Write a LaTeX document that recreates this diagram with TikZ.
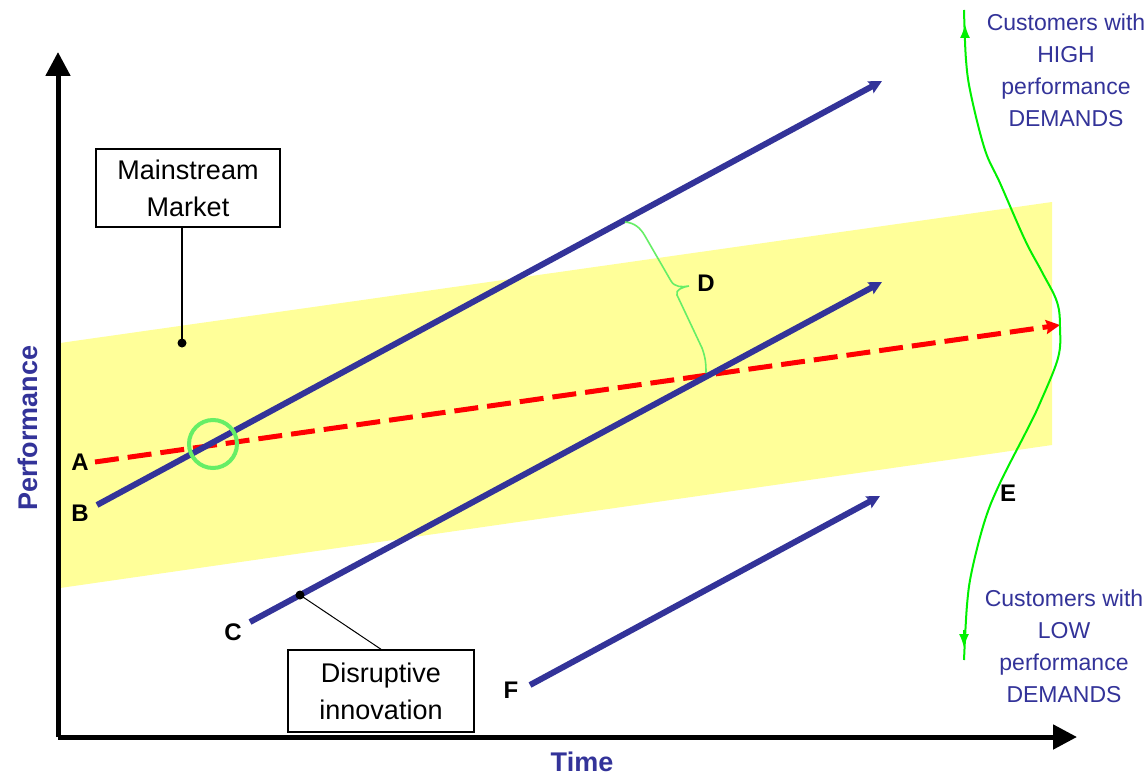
\documentclass[tikz,border=0pt]{standalone}
\usepackage{fontspec}
\setmainfont{Liberation Sans}
\usetikzlibrary{arrows.meta}
\definecolor{navy}{RGB}{51,51,153}
\definecolor{band}{RGB}{255,255,153}
\definecolor{lgreen}{RGB}{102,238,102}
\definecolor{bgreen}{RGB}{0,240,0}
\begin{document}
\begin{tikzpicture}[x=1pt,y=-1pt,
  axisline/.style={line width=5pt,-{Triangle[length=24pt,width=24pt]}},
  blueline/.style={navy,line width=6pt,-{Stealth[length=13pt,width=13pt,inset=2pt]}},
  redline/.style={red,line width=5pt,dash pattern=on 24pt off 9pt,-{Stealth[length=14pt,width=14pt,inset=2pt]}},
  lbl/.style={font=\fontsize{24}{24}\selectfont\bfseries,inner sep=0pt},
  boxnode/.style={draw,line width=1.5pt,fill=white,align=center,font=\fontsize{27}{37}\selectfont},
  cust/.style={navy,align=center,font=\fontsize{23}{32}\selectfont,inner sep=0pt},
  axtitle/.style={navy,font=\fontsize{27}{27}\selectfont\bfseries,inner sep=0pt}
]
\useasboundingbox[fill=white] (0,0) rectangle (1147,778);
% band
\fill[band] (60,343) -- (1052,202) -- (1052,445) -- (60,588) -- cycle;
% coordinates
\coordinate (O) at (58,737);
\coordinate (ytip) at (58,52);
\coordinate (xtip) at (1077,737);
\coordinate (a0) at (95,462);   \coordinate (a1) at (1060,325);
\coordinate (b0) at (97,505);   \coordinate (b1) at (882,81);
\coordinate (c0) at (250,622);  \coordinate (c1) at (882,282);
\coordinate (f0) at (530,685);  \coordinate (f1) at (880,496);
\coordinate (mdot) at (182,343);
\coordinate (ddot) at (300,595);
% boxes
\node[boxnode,minimum width=184pt,minimum height=78pt] (mm) at (188,188) {Mainstream\\Market};
\node[boxnode,minimum width=186pt,minimum height=82pt] (di) at (381,691) {Disruptive\\innovation};
\draw[line width=1.5pt] (mm.south -| mdot) -- (mdot);
\fill (mdot) circle (4.5pt);
% lines
\draw[redline] (a0) -- (a1);
\draw[blueline] (b0) -- (b1);
\draw[blueline] (c0) -- (c1);
\draw[blueline] (f0) -- (f1);
\draw[line width=1pt] (ddot) -- (di.north);
\fill (ddot) circle (4.5pt);
% circle
\draw[lgreen,line width=4pt] (213,444) circle (24pt);
% brace D
\coordinate (u) at (625,222);
\coordinate (l) at (706,373);
\draw[lgreen,line width=1.6pt] (u) to[out=-5,in=120] (645,236) -- (671,281) to[out=-60,in=190] (689,286)
  (689,286) to[out=190,in=110] (677,295) -- (702,348) to[out=-70,in=90] (l);
% axes
\draw[axisline] (O) -- (ytip);
\draw[axisline] (O) -- (xtip);
% labels
\node[lbl] (A) at (80,462) {A};
\node[lbl] (B) at (80,513) {B};
\node[lbl] (C) at (233,632) {C};
\node[lbl] (F) at (511,690) {F};
\node[lbl] (D) at (706,283) {D};
\node[lbl] (E) at (1008,493) {E};
\node[axtitle,rotate=90] (perf) at (28,428) {Performance};
\node[axtitle] (time) at (582,762) {Time};
% distribution curve E
\draw[bgreen,line width=2pt] plot[smooth,tension=0.6] coordinates {(964,10) (966,60) (971,95) (985,150) (1000,183) (1025,240) (1042,272) (1057,302) (1060,328) (1058,358) (1040,403) (1027,430) (1000,483) (985,520) (972,570) (967,605) (964,660)};
\draw[bgreen,line width=2pt,-{Latex[length=14pt,width=10pt]}] (965,42) -- (965,24);
\draw[bgreen,line width=2pt,-{Latex[length=14pt,width=10pt]}] (964,630) -- (964,648);
% customer texts
\node[cust] (hi) at (1066,70) {Customers with\\HIGH\\performance\\DEMANDS};
\node[cust] (lo) at (1064,646) {Customers with\\LOW\\performance\\DEMANDS};
\end{tikzpicture}
\end{document}
